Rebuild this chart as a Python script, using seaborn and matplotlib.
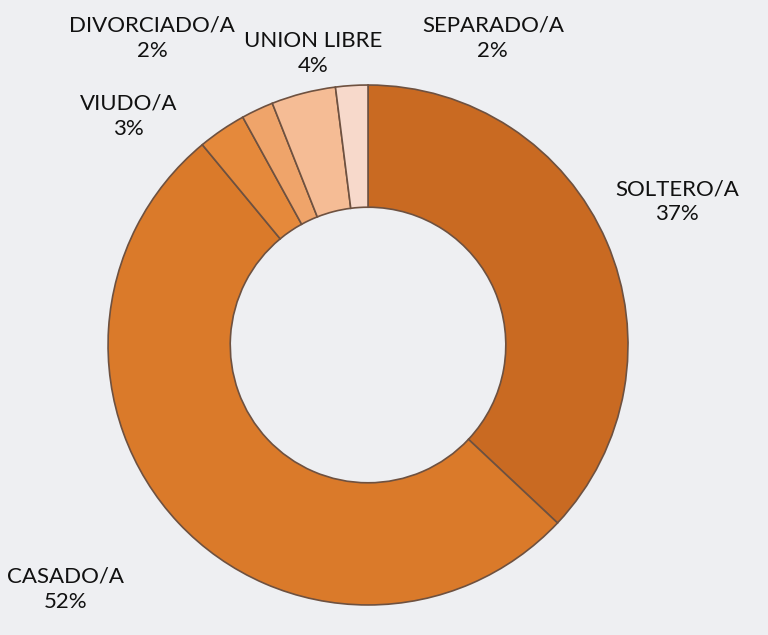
import seaborn as sns
import matplotlib.pyplot as plt

# Estado civil - distribucion
categorias = ["SOLTERO/A", "CASADO/A", "VIUDO/A", "DIVORCIADO/A", "UNION LIBRE", "SEPARADO/A"]
porcentajes = [37, 52, 3, 2, 4, 2]
colores = ["#C96A22", "#DA7A2A", "#E5893B", "#EFA46A", "#F5BC95", "#F7D9CB"]

# label positions (relative to ring centre, in ring radii)
pos_etiquetas = [(1.19, 0.55), (-1.165, -0.94), (-0.92, 0.88),
                 (-0.83, 1.18), (-0.21, 1.12), (0.48, 1.18)]

sns.set_style("white")
plt.rcParams["font.family"] = ["Lato", "DejaVu Sans"]

fig = plt.figure(figsize=(7.68, 6.35), dpi=100)
fig.patch.set_facecolor("#EEEFF2")
ax = fig.add_axes([0.1407, 0.0472, 0.677, 0.819])
ax.set_facecolor("none")

wedges, _ = ax.pie(porcentajes, colors=colores, startangle=90, counterclock=False,
                   radius=1, wedgeprops=dict(width=0.47, edgecolor="#6E5140", linewidth=1.2))

for cat, pct, (x, y) in zip(categorias, porcentajes, pos_etiquetas):
    ax.text(x, y, f"{cat}\n{pct}%", ha="center", va="center", fontsize=16,
            color="#111111", linespacing=1.3)

ax.set_xlim(-1, 1)
ax.set_ylim(-1, 1)
ax.axis("off")

plt.savefig("out.png", dpi=100, facecolor=fig.get_facecolor())
